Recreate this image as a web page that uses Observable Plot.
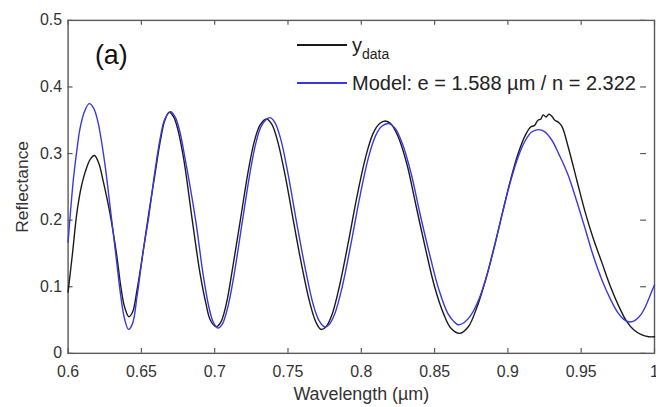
<!DOCTYPE html>
<html>
<head>
<meta charset="utf-8">
<script src="https://cdn.jsdelivr.net/npm/d3@7"></script>
<script src="https://cdn.jsdelivr.net/npm/@observablehq/plot@0.6"></script>
<style>
html, body { margin: 0; padding: 0; background: #fff; overflow: hidden; width: 656px; height: 407px; }
#wrap { position: relative; width: 656px; height: 407px; overflow: hidden; }
#chart svg { display: block; }
.leg { position: absolute; left: 297px; height: 20px; display: flex; align-items: center; white-space: nowrap;
       font-family: "Liberation Sans", Arial, sans-serif; font-size: 20px; color: #222; }
.sw { display: inline-block; width: 50px; height: 1.5px; margin-right: 5px; }
.leg sub { font-size: 14px; vertical-align: -7px; line-height: 0; }
</style>
</head>
<body>
<div id="wrap">
  <div id="chart"></div>
  <div class="leg" style="top:35px"><span class="sw" style="background:#1a1a1a"></span><span>y<sub>data</sub></span></div>
  <div class="leg" style="top:73px"><span class="sw" style="background:#3838e0"></span><span>Model: e = 1.588 µm / n = 2.322</span></div>
</div>
<script>
// Measured reflectance (y_data)
const dataWl = [0.600,0.603,0.606,0.609,0.6115,0.615,0.618,0.621,0.6236,0.6284,0.633,0.636,0.6385,0.6415,0.644,0.647,
  0.651,0.655,0.659,0.663,0.666,0.669,0.672,0.675,0.679,0.6847,0.690,0.694,0.697,0.7009,0.704,0.708,0.712,0.7175,
  0.723,0.727,0.731,0.7353,0.739,0.743,0.748,0.754,0.760,0.765,0.769,0.7725,0.776,0.780,0.785,0.791,0.797,0.803,
  0.808,0.8125,0.8164,0.820,0.825,0.831,0.837,0.844,0.850,0.856,0.861,0.867,0.873,0.879,0.885,0.891,0.8964,0.902,
  0.907,0.912,0.9155,0.918,0.9205,0.9225,0.924,0.926,0.928,0.930,0.932,0.9345,0.937,0.941,0.947,0.9527,0.958,
  0.964,0.970,0.976,0.981,0.986,0.991,0.996,1.000];
const dataR = [0.092,0.150,0.211,0.250,0.271,0.291,0.297,0.285,0.262,0.212,0.150,0.100,0.070,0.055,0.062,0.095,
  0.150,0.210,0.265,0.320,0.350,0.362,0.355,0.335,0.290,0.200,0.120,0.075,0.050,0.040,0.046,0.075,0.125,0.200,
  0.275,0.318,0.343,0.352,0.344,0.318,0.268,0.195,0.125,0.075,0.047,0.036,0.040,0.058,0.100,0.165,0.235,0.295,
  0.330,0.345,0.349,0.345,0.326,0.285,0.225,0.155,0.100,0.060,0.038,0.030,0.040,0.070,0.112,0.163,0.212,0.262,
  0.300,0.328,0.340,0.342,0.350,0.352,0.358,0.355,0.359,0.356,0.350,0.347,0.340,0.311,0.260,0.212,0.174,
  0.137,0.100,0.069,0.048,0.035,0.028,0.025,0.025];

// Model fit
const modelWl = [0.600,0.6036,0.606,0.608,0.611,0.6144,0.6175,0.6205,0.625,0.6284,0.633,0.636,0.6385,0.6412,0.644,0.647,
  0.651,0.655,0.659,0.663,0.666,0.670,0.673,0.676,0.680,0.687,0.692,0.696,0.699,0.7022,0.705,0.709,0.713,0.719,
  0.724,0.728,0.732,0.7376,0.741,0.745,0.750,0.756,0.762,0.767,0.771,0.7748,0.778,0.782,0.787,0.793,0.799,0.805,
  0.810,0.814,0.8187,0.823,0.828,0.834,0.840,0.847,0.853,0.859,0.863,0.866,0.870,0.875,0.880,0.885,0.891,0.8964,
  0.902,0.907,0.912,0.916,0.9207,0.925,0.930,0.935,0.941,0.947,0.9527,0.958,0.964,0.970,0.975,0.979,0.983,0.987,
  0.991,0.994,0.997,1.000];
const modelR = [0.167,0.261,0.305,0.336,0.362,0.375,0.368,0.346,0.286,0.225,0.140,0.085,0.052,0.036,0.045,0.085,
  0.150,0.205,0.270,0.325,0.352,0.363,0.355,0.335,0.290,0.200,0.120,0.070,0.047,0.038,0.043,0.070,0.115,0.200,
  0.270,0.315,0.342,0.354,0.347,0.322,0.270,0.195,0.125,0.075,0.050,0.040,0.043,0.060,0.100,0.165,0.235,0.295,
  0.328,0.341,0.345,0.338,0.315,0.270,0.210,0.145,0.095,0.060,0.048,0.043,0.046,0.058,0.080,0.112,0.162,0.212,
  0.260,0.295,0.320,0.332,0.336,0.333,0.320,0.298,0.268,0.228,0.187,0.148,0.111,0.081,0.061,0.051,0.047,0.050,
  0.059,0.071,0.087,0.103];

const xTicks = [0.6,0.65,0.7,0.75,0.8,0.85,0.9,0.95,1.0];
const xTickLabels = ["0.6","0.65","0.7","0.75","0.8","0.85","0.9","0.95","1"];
const yTicks = [0,0.1,0.2,0.3,0.4,0.5];
const yTickLabels = ["0","0.1","0.2","0.3","0.4","0.5"];

const dataRows = dataWl.map((x, i) => ({x, y: dataR[i]}));
const modelRows = modelWl.map((x, i) => ({x, y: modelR[i]}));

const axisColor = "#5a5a5a";

const chart = Plot.plot({
  width: 660,
  height: 407,
  marginLeft: 68,
  marginRight: 2,
  marginTop: 20,
  marginBottom: 52,
  style: {fontFamily: "'Liberation Sans', Arial, sans-serif", fontSize: "16px", color: "#333", background: "#fff", overflow: "visible"},
  x: {domain: [0.6, 1.0]},
  y: {domain: [0, 0.5]},
  marks: [
    Plot.axisX(xTicks, {anchor: "bottom", tickSize: 0, tickPadding: 12, label: null,
      tickFormat: d => xTickLabels[xTicks.indexOf(d)]}),
    Plot.axisY(yTicks, {anchor: "left", tickSize: 0, tickPadding: 6, label: null,
      tickFormat: d => yTickLabels[yTicks.indexOf(d)]}),
    Plot.tickX(xTicks, {x: d => d, insetTop: 330, stroke: axisColor, strokeWidth: 1.2}),
    Plot.tickX(xTicks, {x: d => d, insetBottom: 330, stroke: axisColor, strokeWidth: 1.2}),
    Plot.tickY(yTicks, {y: d => d, insetRight: 585, stroke: axisColor, strokeWidth: 1.2}),
    Plot.tickY(yTicks, {y: d => d, insetLeft: 576, insetRight: 8, stroke: axisColor, strokeWidth: 1.2}),
    Plot.frame({stroke: axisColor, strokeWidth: 1.4}),
    Plot.line(dataRows, {x: "x", y: "y", stroke: "#1a1a1a", strokeWidth: 1.4, curve: "catmull-rom"}),
    Plot.line(modelRows, {x: "x", y: "y", stroke: "#3838e0", strokeWidth: 1.4, curve: "catmull-rom"}),
    Plot.text(["Wavelength (µm)"], {text: d => d, frameAnchor: "bottom", dy: 41, lineAnchor: "middle", fontSize: 18, fill: "#333"}),
    Plot.text(["Reflectance"], {text: d => d, frameAnchor: "left", dx: -46, rotate: -90, textAnchor: "middle", lineAnchor: "middle", fontSize: 17.5, fill: "#333"}),
    Plot.text(["(a)"], {text: d => d, frameAnchor: "top-left", dx: 27, dy: 35, textAnchor: "start", lineAnchor: "middle", fontSize: 27, fill: "#111"})
  ]
});
document.getElementById("chart").appendChild(chart);
</script>
</body>
</html>
